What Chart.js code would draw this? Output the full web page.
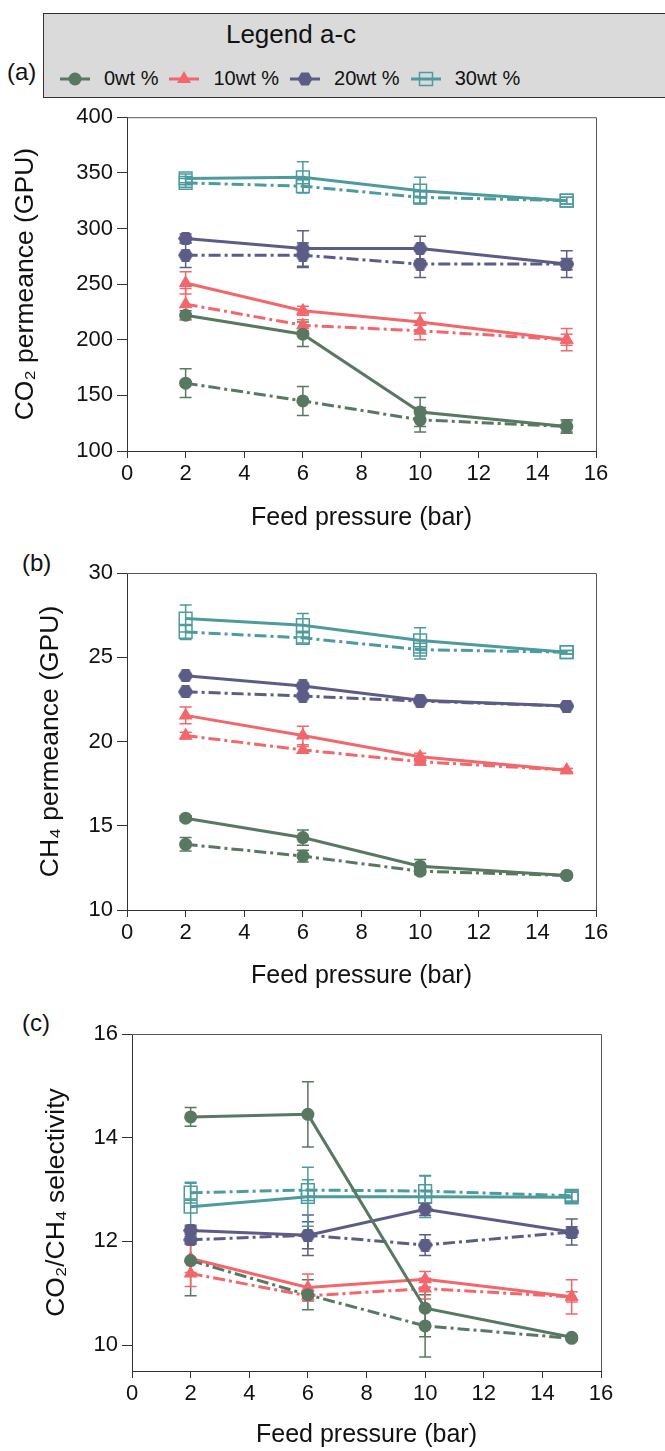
<!DOCTYPE html>
<html>
<head>
<meta charset="utf-8">
<script src="https://cdn.jsdelivr.net/npm/chart.js@4.4.1/dist/chart.umd.min.js"></script>
<style>
  body { margin: 0; background: #fff; font-family: "Liberation Sans", Arial, sans-serif; color: #111; }
  #page { position: relative; width: 665px; height: 1451px; overflow: hidden; }
  canvas { position: absolute; left: 0; }
  .tag { position: absolute; font-size: 24px; line-height: 24px; }
  #legend { position: absolute; left: 43px; top: 13px; width: 660px; height: 83px;
            background: #dadada; border: 1px solid #333; }
  #legend .title { position: absolute; left: 0; width: 494px; top: 5px; text-align: center; font-size: 26px; }
  #legend .row { position: absolute; left: 16px; top: 53px; display: flex; align-items: center; font-size: 20px; }
  #legend .item { display: flex; align-items: center; margin-right: 11px; }
  #legend svg { margin-right: 14px; }
</style>
</head>
<body>
<div id="page">
  <div id="legend"><div class="title">Legend a-c</div><div class="row" id="legendRow"></div></div>
  <div class="tag" style="left:7px; top:60px;">(a)</div>
  <div class="tag" style="left:22px; top:551px;">(b)</div>
  <div class="tag" style="left:22px; top:1011px;">(c)</div>
  <canvas id="chartA" width="665" height="445" style="top:100px"></canvas>
  <canvas id="chartB" width="665" height="455" style="top:545px"></canvas>
  <canvas id="chartC" width="665" height="451" style="top:1000px"></canvas>
</div>
<script>
// feed pressure (bar)
const pressure = [2, 6, 10, 15];
const seriesNames = ['0wt %', '10wt %', '20wt %', '30wt %'];
const seriesColors = ['#587862', '#f2676b', '#5b5d87', '#4e9b9e'];
const xTicks = [0, 2, 4, 6, 8, 10, 12, 14, 16];

// (a) CO2 permeance (GPU), one row per series
const co2Solid = [[222, 205, 135, 122], [251, 226, 216, 200], [291, 282, 282, 268], [345, 346, 334, 325]];
const co2SolidErr = [[4, 11, 13, 6], [10, 4, 8, 10], [4, 16, 11, 12], [4, 14, 12, 3]];
const co2Dash = [[161, 145, 128, 122], [232, 213, 208, 200], [276, 276, 268, 268], [341, 338, 328, 325]];
const co2DashErr = [[13, 13, 11, 5], [14, 5, 8, 5], [11, 11, 12, 5], [4, 6, 5, 3]];
const co2Ticks = [100, 150, 200, 250, 300, 350, 400];

// (b) CH4 permeance (GPU)
const ch4Solid = [[15.45, 14.3, 12.6, 12.05], [21.55, 20.35, 19.1, 18.3], [23.9, 23.3, 22.45, 22.1], [27.3, 26.9, 26.0, 25.3]];
const ch4SolidErr = [[0.15, 0.45, 0.4, 0.1], [0.5, 0.55, 0.2, 0.1], [0.1, 0.15, 0.1, 0.1], [0.8, 0.7, 0.75, 0.1]];
const ch4Dash = [[13.9, 13.2, 12.3, 12.05], [20.35, 19.5, 18.8, 18.3], [22.95, 22.7, 22.4, 22.1], [26.5, 26.15, 25.45, 25.3]];
const ch4DashErr = [[0.4, 0.35, 0.2, 0.1], [0.2, 0.2, 0.2, 0.1], [0.1, 0.15, 0.1, 0.1], [0.45, 0.3, 0.55, 0.1]];
const ch4Ticks = [10, 15, 20, 25, 30];

// (c) CO2/CH4 selectivity
const selSolid = [[14.40, 14.45, 10.71, 10.15], [11.67, 11.11, 11.27, 10.93], [12.21, 12.12, 12.62, 12.18], [12.67, 12.86, 12.86, 12.85]];
const selSolidErr = [[0.18, 0.63, 0.55, 0.03], [0.27, 0.26, 0.15, 0.33], [0.07, 0.39, 0.12, 0.25], [0.45, 0.57, 0.4, 0.1]];
const selDash = [[11.63, 10.97, 10.37, 10.13], [11.38, 10.95, 11.09, 10.93], [12.03, 12.12, 11.93, 12.18], [12.94, 12.99, 12.97, 12.88]];
const selDashErr = [[0.68, 0.29, 0.6, 0.03], [0.25, 0.1, 0.2, 0.1], [0.07, 0.26, 0.2, 0.1], [0.2, 0.2, 0.3, 0.1]];
const selTicks = [10, 12, 14, 16];

const FONT = '"Liberation Sans", Arial, sans-serif';

// hexagon marker for 20wt %
function hexagon(color, r) {
    const c = document.createElement('canvas');
    const h = Math.ceil(r * Math.sqrt(3));
    c.width = r * 2; c.height = h;
    const g = c.getContext('2d');
    g.fillStyle = color;
    g.beginPath();
    for (let k = 0; k < 6; k++) {
        const a = Math.PI / 3 * k;
        g.lineTo(r + r * Math.cos(a), h / 2 + r * Math.sin(a));
    }
    g.closePath();
    g.fill();
    return c;
}

const markers = [
    { style: 'circle', radius: 6.5, fill: seriesColors[0], border: 0 },
    { style: 'triangle', radius: 8, fill: seriesColors[1], border: 0 },
    { style: hexagon(seriesColors[2], 7.5), radius: 7, fill: seriesColors[2], border: 0 },
    { style: 'rect', radius: 9, fill: 'rgba(0,0,0,0)', border: 1.5 }
];

// === error bars, drawn under the lines ===
const errorBars = {
    id: 'errorBars',
    beforeDatasetsDraw(chart) {
        const ctx = chart.ctx;
        const yScale = chart.scales.y;
        chart.data.datasets.forEach((ds, i) => {
            const meta = chart.getDatasetMeta(i);
            ctx.save();
            ctx.strokeStyle = ds.borderColor;
            ctx.lineWidth = 1.5;
            meta.data.forEach((pt, j) => {
                const v = ds.data[j].y, e = ds.errors[j];
                const top = yScale.getPixelForValue(v + e);
                const bot = yScale.getPixelForValue(v - e);
                ctx.beginPath();
                ctx.moveTo(pt.x, top); ctx.lineTo(pt.x, bot);
                ctx.moveTo(pt.x - 6, top); ctx.lineTo(pt.x + 6, top);
                ctx.moveTo(pt.x - 6, bot); ctx.lineTo(pt.x + 6, bot);
                ctx.stroke();
            });
            ctx.restore();
        });
    }
};

// top and right edge of the plot box
const frame = {
    id: 'frame',
    afterDraw(chart) {
        const { ctx, chartArea: a } = chart;
        ctx.save();
        ctx.strokeStyle = '#555';
        ctx.lineWidth = 1;
        ctx.beginPath();
        ctx.moveTo(a.left, a.top + 0.5); ctx.lineTo(a.right + 0.5, a.top + 0.5); ctx.lineTo(a.right + 0.5, a.bottom);
        ctx.stroke();
        ctx.restore();
    }
};

function buildDatasets(solid, solidErr, dash, dashErr) {
    const sets = [];
    seriesNames.forEach((name, i) => {
        [[dash, dashErr, true], [solid, solidErr, false]].forEach(([vals, errs, dashed]) => {
            sets.push({
                label: name,
                data: pressure.map((p, j) => ({ x: p, y: vals[i][j] })),
                errors: errs[i],
                borderColor: seriesColors[i],
                backgroundColor: seriesColors[i],
                borderWidth: 3,
                borderDash: dashed ? [12, 4, 3, 4] : [],
                pointStyle: markers[i].style,
                pointRadius: markers[i].radius,
                pointBackgroundColor: markers[i].fill,
                pointBorderColor: seriesColors[i],
                pointBorderWidth: markers[i].border,
                tension: 0
            });
        });
    });
    return sets;
}

function makePanel(id, datasets, p) {
    new Chart(document.getElementById(id), {
        type: 'line',
        data: { datasets },
        plugins: [errorBars, frame],
        options: {
            responsive: false,
            animation: false,
            layout: { padding: { top: p.padTop, right: p.padRight, bottom: 0, left: 0 } },
            plugins: { legend: { display: false }, tooltip: { enabled: false } },
            scales: {
                x: {
                    type: 'linear', min: 0, max: 16,
                    afterBuildTicks: s => { s.ticks = xTicks.map(v => ({ value: v })); },
                    afterFit: s => { s.height = p.xHeight; },
                    ticks: { font: { family: FONT, size: 22 }, color: '#111', padding: 3 },
                    grid: { drawOnChartArea: false, tickLength: 7, color: '#333' },
                    border: { color: '#333' },
                    title: { display: true, text: 'Feed pressure (bar)', color: '#111',
                             font: { family: FONT, size: 25 }, padding: { top: 0, bottom: p.xTitlePad } }
                },
                y: {
                    min: p.min, max: p.max,
                    afterBuildTicks: s => { s.ticks = p.ticks.map(v => ({ value: v })); },
                    afterFit: s => { s.width = p.yWidth; },
                    ticks: { font: { family: FONT, size: 22 }, color: '#111', padding: 4 },
                    grid: { drawOnChartArea: false, tickLength: 10, color: '#333' },
                    border: { color: '#333' },
                    title: { display: true, text: p.title, color: '#111',
                             font: { family: FONT, size: 26.5 }, padding: { top: p.yTitlePad, bottom: 0 } }
                }
            }
        }
    });
}

makePanel('chartA', buildDatasets(co2Solid, co2SolidErr, co2Dash, co2DashErr), {
    min: 100, max: 400, ticks: co2Ticks, title: 'CO₂ permeance (GPU)',
    padTop: 14, padRight: 69, xHeight: 94, xTitlePad: 12, yWidth: 127, yTitlePad: 10
});
makePanel('chartB', buildDatasets(ch4Solid, ch4SolidErr, ch4Dash, ch4DashErr), {
    min: 10, max: 30, ticks: ch4Ticks, title: 'CH₄ permeance (GPU)',
    padTop: 28, padRight: 69, xHeight: 90, xTitlePad: 9, yWidth: 127, yTitlePad: 35
});
makePanel('chartC', buildDatasets(selSolid, selSolidErr, selDash, selDashErr), {
    min: 9.5, max: 16, ticks: selTicks, title: 'CO₂/CH₄ selectivity',
    padTop: 34, padRight: 64, xHeight: 80, xTitlePad: 1, yWidth: 132, yTitlePad: 41
});

// === legend box ===
function markerSvg(i) {
    const c = seriesColors[i];
    const shapes = [
        `<circle cx="15" cy="10" r="6.5" fill="${c}"/>`,
        `<polygon points="15,2 22,14 8,14" fill="${c}"/>`,
        `<polygon points="22.5,10 18.75,3.5 11.25,3.5 7.5,10 11.25,16.5 18.75,16.5" fill="${c}"/>`,
        `<rect x="8.5" y="3.5" width="13" height="13" fill="none" stroke="${c}" stroke-width="1.5"/>`
    ];
    return `<svg width="30" height="20"><line x1="0" y1="10" x2="30" y2="10" stroke="${c}" stroke-width="3"/>${shapes[i]}</svg>`;
}
document.getElementById('legendRow').innerHTML = seriesNames.map((name, i) =>
    `<div class="item">${markerSvg(i)}<span>${name}</span></div>`).join('');
</script>
</body>
</html>
